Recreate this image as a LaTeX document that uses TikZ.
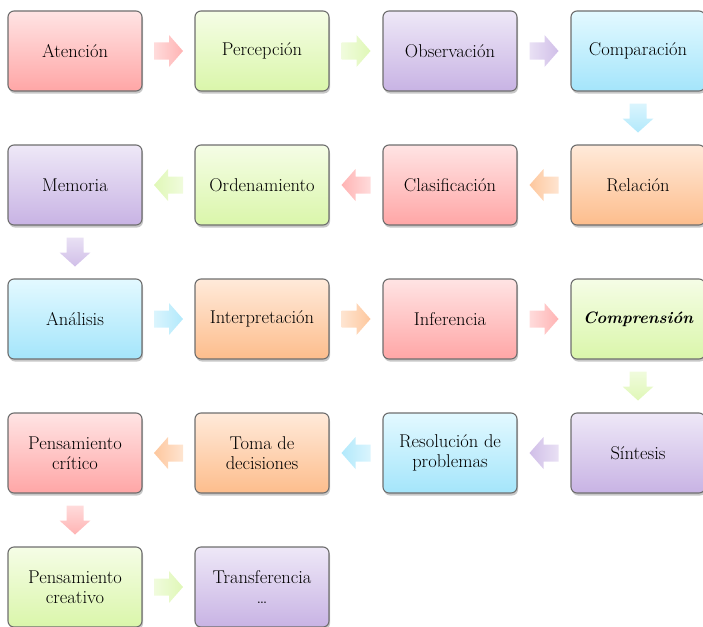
\documentclass[tikz,border=0pt]{standalone}
\usetikzlibrary{calc,shadows}
\definecolor{redT}{HTML}{FFE4E4}\definecolor{redB}{HTML}{FFA6A6}
\definecolor{grnT}{HTML}{F5FDE6}\definecolor{grnB}{HTML}{DAF6AA}
\definecolor{purT}{HTML}{EEE8F7}\definecolor{purB}{HTML}{C8B3E4}
\definecolor{cyaT}{HTML}{E3F9FF}\definecolor{cyaB}{HTML}{A4E5FB}
\definecolor{oraT}{HTML}{FFEADA}\definecolor{oraB}{HTML}{FDBD8C}
\definecolor{boxborder}{HTML}{6E6E6E}
\tikzset{
  box/.style={draw=boxborder, line width=1.1pt, rounded corners=6pt,
    minimum width=134pt, minimum height=80pt, inner sep=2pt, align=center,
    font=\fontsize{18.5}{19.5}\selectfont, text=black,
    top color=#1T, bottom color=#1B,
    drop shadow={shadow xshift=1pt, shadow yshift=-2.5pt, fill=black, opacity=0.22}},
}
\newcommand\blkR[2]{\shade[left color=#2B!40!white, right color=#2B!85!white]
  (#1) ++(-14.5,-8.5) -- ++(15,0) -- ++(0,-7.5) -- ++(14,16) -- ++(-14,16) -- ++(0,-7.5) -- ++(-15,0) -- cycle;}
\newcommand\blkL[2]{\shade[right color=#2B!40!white, left color=#2B!85!white]
  (#1) ++(14.5,-8.5) -- ++(-15,0) -- ++(0,-7.5) -- ++(-14,16) -- ++(14,16) -- ++(0,-7.5) -- ++(15,0) -- cycle;}
\newcommand\blkD[2]{\shade[top color=#2B!40!white, bottom color=#2B!85!white]
  (#1) ++(-8.5,-14.5) -- ++(0,15) -- ++(-7,0) -- ++(15.5,14) -- ++(15.5,-14) -- ++(-7,0) -- ++(0,-15) -- cycle;}
\begin{document}
\begin{tikzpicture}[x=1pt,y=-1pt]
\useasboundingbox (0,0) rectangle (703,626);
% row 1
\node[box=red] (a1) at (75,51) {Atenci\'on};
\node[box=grn] (a2) at (262,51) {Percepci\'on};
\node[box=pur] (a3) at (450,51) {Observaci\'on};
\node[box=cya] (a4) at (638,51) {Comparaci\'on};
% row 2
\node[box=ora] (b4) at (638,185) {Relaci\'on};
\node[box=red] (b3) at (450,185) {Clasificaci\'on};
\node[box=grn] (b2) at (262,185) {Ordenamiento};
\node[box=pur] (b1) at (75,185) {Memoria};
% row 3
\node[box=cya] (c1) at (75,319) {An\'alisis};
\node[box=ora] (c2) at (262,319) {Interpretaci\'on};
\node[box=red] (c3) at (450,319) {Inferencia};
\node[box=grn] (c4) at (638,319) {\fontsize{16.5}{19}\selectfont\bfseries\itshape Comprensi\'on};
% row 4
\node[box=pur] (d4) at (638,453) {S\'intesis};
\node[box=cya] (d3) at (450,453) {Resoluci\'on de\\problemas};
\node[box=ora] (d2) at (262,453) {Toma de\\decisiones};
\node[box=red] (d1) at (75,453) {Pensamiento\\cr\'itico};
% row 5
\node[box=grn] (e1) at (75,587) {Pensamiento\\creativo};
\node[box=pur] (e2) at (262,587) {Transferencia\\\dots};
% arrows
\blkR{$(a1.east)!0.5!(a2.west)$}{red}
\blkR{$(a2.east)!0.5!(a3.west)$}{grn}
\blkR{$(a3.east)!0.5!(a4.west)$}{pur}
\blkD{$(a4.south)!0.5!(b4.north)$}{cya}
\blkL{$(b4.west)!0.5!(b3.east)$}{ora}
\blkL{$(b3.west)!0.5!(b2.east)$}{red}
\blkL{$(b2.west)!0.5!(b1.east)$}{grn}
\blkD{$(b1.south)!0.5!(c1.north)$}{pur}
\blkR{$(c1.east)!0.5!(c2.west)$}{cya}
\blkR{$(c2.east)!0.5!(c3.west)$}{ora}
\blkR{$(c3.east)!0.5!(c4.west)$}{red}
\blkD{$(c4.south)!0.5!(d4.north)$}{grn}
\blkL{$(d4.west)!0.5!(d3.east)$}{pur}
\blkL{$(d3.west)!0.5!(d2.east)$}{cya}
\blkL{$(d2.west)!0.5!(d1.east)$}{ora}
\blkD{$(d1.south)!0.5!(e1.north)$}{red}
\blkR{$(e1.east)!0.5!(e2.west)$}{grn}
\end{tikzpicture}
\end{document}
